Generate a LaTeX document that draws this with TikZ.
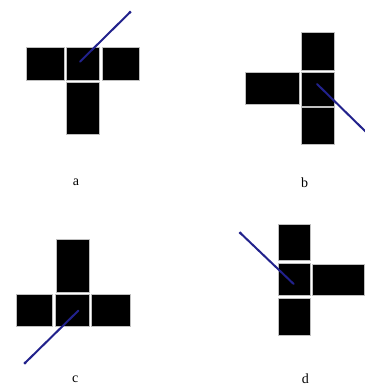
\documentclass[tikz,border=0pt]{standalone}
\usepackage{fontspec}
\setmainfont{Liberation Serif}
\definecolor{probe}{HTML}{22228C}
\tikzset{
  cell/.style={fill=black, draw=black!25, line width=0.6pt},
  probeline/.style={draw=probe, line width=2pt, line cap=round},
  tipdot/.style={fill=probe, draw=none},
  lab/.style={font=\fontsize{14}{16}\selectfont, inner sep=0pt}
}
\begin{document}
\begin{tikzpicture}[x=1pt, y=-1pt]
\useasboundingbox[fill=white] (0,0) rectangle (364,387);
% panel a
\draw[cell] (26.7,47.7) rectangle (64.3,80);
\draw[cell] (66.7,47.7) rectangle (99.3,80);
\draw[cell] (102.7,47.7) rectangle (139.3,80);
\draw[cell] (66.7,82.7) rectangle (99.3,134.7);
\coordinate (a1) at (130,12.3);
\coordinate (a2) at (80,61.7);
\draw[probeline] (a1) -- (a2);
\fill[tipdot] (a1) circle (1.6);
\node[lab] (la) at (76,182.7) {a};
% panel b
\draw[cell] (301,32.3) rectangle (334,70);
\draw[cell] (301,72.3) rectangle (334,106);
\draw[cell] (301,107.7) rectangle (334,144);
\draw[cell] (245.3,72.3) rectangle (299.3,104.3);
\coordinate (b1) at (317,84);
\coordinate (b2) at (366,132);
\draw[probeline] (b1) -- (b2);
\node[lab] (lb) at (304.7,182.7) {b};
% panel c
\draw[cell] (56.7,239.7) rectangle (89.3,292.3);
\draw[cell] (16,294.7) rectangle (52.3,326.7);
\draw[cell] (55,294.7) rectangle (89.3,326.7);
\draw[cell] (91.7,294.7) rectangle (130,326.7);
\coordinate (c1) at (25,363);
\coordinate (c2) at (78.3,310.7);
\draw[probeline] (c1) -- (c2);
\fill[tipdot] (c1) circle (1.6);
\node[lab] (lc) at (75.3,379) {c};
% panel d
\draw[cell] (278,224) rectangle (310.7,260.7);
\draw[cell] (278,263) rectangle (310.7,295.7);
\draw[cell] (278,298) rectangle (310.7,335.7);
\draw[cell] (312.7,264) rectangle (364.5,295.7);
\coordinate (d1) at (240.3,233);
\coordinate (d2) at (293.7,284);
\draw[probeline] (d1) -- (d2);
\fill[tipdot] (d1) circle (1.6);
\node[lab] (ld) at (305.3,378.3) {d};
\end{tikzpicture}
\end{document}
